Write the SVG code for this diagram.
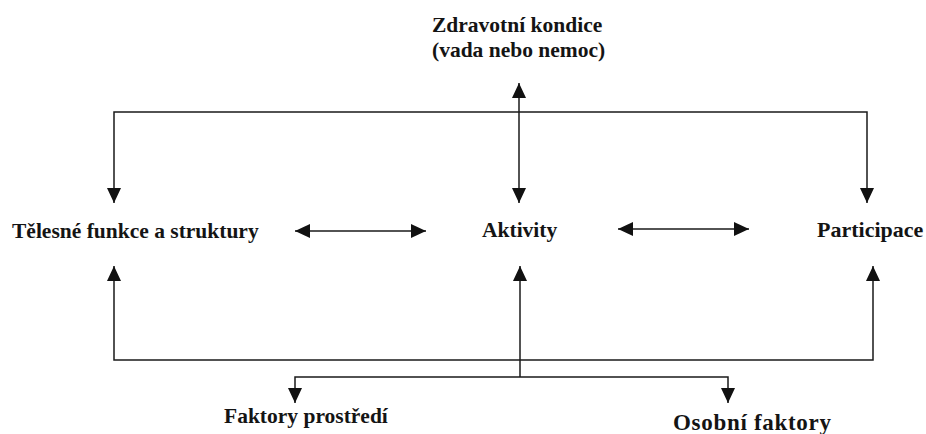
<svg xmlns="http://www.w3.org/2000/svg" width="926" height="434" viewBox="0 0 926 434">
<defs>
<marker id="ah" markerUnits="userSpaceOnUse" markerWidth="15" markerHeight="14" refX="15" refY="7" orient="auto-start-reverse" viewBox="0 0 15 14">
<path d="M0,0 L15,7 L0,14 z" fill="#111"/>
</marker>
<style>
.lbl{font-family:"Liberation Serif","Times New Roman",serif;font-weight:bold;font-size:21.5px;fill:#141414}
.c{fill:none;stroke:#1a1a1a;stroke-width:1.5}
.a2{marker-start:url(#ah);marker-end:url(#ah)}
.a1{marker-start:url(#ah)}
</style>
</defs>
<rect width="926" height="434" fill="#fff"/>
<g id="connectors">
<path class="c a2" d="M114,203 V112 H867 V203"/>
<path class="c a2" d="M519,83 V203"/>
<path class="c a2" d="M114,266 V360 H873 V266"/>
<path class="c a1" d="M520,266 V377"/>
<path class="c a2" d="M295,403 V377 H728 V403"/>
<path class="c a2" d="M295,231 H426"/>
<path class="c a2" d="M618,229 H749"/>
</g>
<g id="zdravotni-kondice">
<text class="lbl" x="432" y="32">Zdravotní kondice</text>
<text class="lbl" x="432" y="57">(vada nebo nemoc)</text>
</g>
<g id="telesne-funkce">
<text class="lbl" x="12" y="238">Tělesné funkce a struktury</text>
</g>
<g id="aktivity">
<text class="lbl" x="482" y="237">Aktivity</text>
</g>
<g id="participace">
<text class="lbl" x="817" y="237" style="font-size:22px">Participace</text>
</g>
<g id="faktory-prostredi">
<text class="lbl" x="224" y="423">Faktory prostředí</text>
</g>
<g id="osobni-faktory">
<text class="lbl" x="673" y="430" style="font-size:23px;letter-spacing:0.7px">Osobní faktory</text>
</g>
</svg>
